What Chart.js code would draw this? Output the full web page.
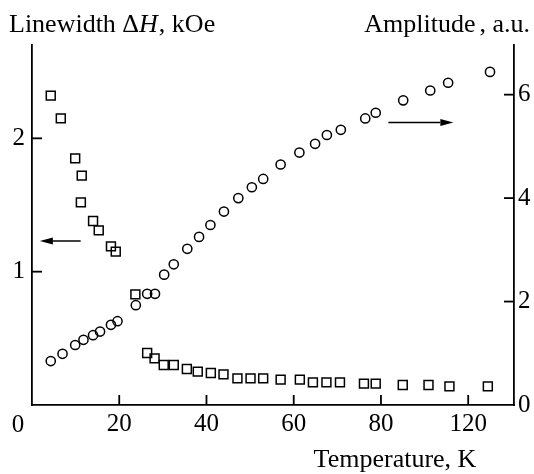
<!DOCTYPE html>
<html>
<head>
<meta charset="utf-8">
<script src="https://cdn.jsdelivr.net/npm/chart.js@4.4.0/dist/chart.umd.min.js"></script>
<style>
  html, body { margin: 0; padding: 0; background: #fff; }
</style>
</head>
<body>
<canvas id="chart" width="534" height="474"></canvas>
<script>
// Linewidth (left axis, squares)
const linewidthT = [4.3, 6.6, 9.9, 11.4, 11.2, 14.0, 15.3, 18.1, 19.2, 23.7, 26.4, 28.1, 30.2, 32.5, 35.5, 38.0,
  41.0, 43.9, 47.1, 50.1, 53.0, 57.0, 61.4, 64.4, 67.5, 70.6, 76.1, 78.8, 85.0, 90.9, 95.7, 104.5];
const linewidthKOe = [2.32, 2.15, 1.85, 1.72, 1.52, 1.38, 1.31, 1.19, 1.15, 0.83, 0.39, 0.35, 0.30, 0.30, 0.27, 0.25,
  0.24, 0.23, 0.20, 0.20, 0.20, 0.19, 0.19, 0.17, 0.17, 0.17, 0.16, 0.16, 0.15, 0.15, 0.14, 0.14];

// Amplitude (right axis, circles)
const amplitudeT = [4.3, 7.0, 9.9, 11.8, 14.0, 15.6, 18.1, 19.6, 23.8, 26.4, 28.2, 30.3, 32.5, 35.6, 38.3, 40.9,
  44.0, 47.3, 50.4, 53.0, 57.0, 61.3, 64.9, 67.6, 70.8, 76.4, 78.8, 85.1, 91.3, 95.4, 105.0];
const amplitudeAU = [0.85, 0.99, 1.16, 1.26, 1.35, 1.42, 1.55, 1.62, 1.93, 2.15, 2.15, 2.52, 2.72, 3.02, 3.25, 3.48,
  3.74, 4.00, 4.21, 4.37, 4.65, 4.88, 5.05, 5.22, 5.32, 5.54, 5.65, 5.89, 6.08, 6.23, 6.44];

// Axis ticks
const xTickValues = [0, 20, 40, 60, 80, 100];
const xTickLabels = ['0', '20', '40', '60', '80', '120'];
const leftTickValues = [1, 2];
const rightTickValues = [0, 2, 4, 6];

const FONT = "'Liberation Serif', 'Times New Roman', serif";
const FS = 25;
const TITLE_FS = 26;
const LINE_W = 1.8;
const TICK_IN = 10; // tick marks point into the plot

const toPoints = (xs, ys) => xs.map((x, i) => ({ x: x, y: ys[i] }));

// Inward tick marks, arrows and axis titles
const decorations = {
  id: 'decorations',
  afterDraw(chart) {
    const ctx = chart.ctx;
    const sx = chart.scales.x, sl = chart.scales.yL, sr = chart.scales.yR;
    const area = chart.chartArea;
    const hw = LINE_W / 2;

    ctx.save();
    ctx.strokeStyle = '#000';
    ctx.fillStyle = '#000';

    for (const v of xTickValues.slice(1)) {
      const px = sx.getPixelForValue(v);
      ctx.fillRect(px - hw, area.bottom - TICK_IN, LINE_W, TICK_IN);
    }
    for (const v of leftTickValues) {
      const py = sl.getPixelForValue(v);
      ctx.fillRect(area.left, py - hw, TICK_IN, LINE_W);
    }
    for (const v of rightTickValues.slice(1)) {
      const py = sr.getPixelForValue(v);
      ctx.fillRect(area.right - TICK_IN, py - hw, TICK_IN, LINE_W);
    }

    // arrows pointing each series to its axis
    ctx.lineWidth = 1.5;
    const arrow = (x0, x1, py) => {
      const dir = Math.sign(x1 - x0);
      const head = 13, half = 3.5;
      ctx.beginPath();
      ctx.moveTo(x0, py);
      ctx.lineTo(x1 - dir * head, py);
      ctx.stroke();
      ctx.beginPath();
      ctx.moveTo(x1, py);
      ctx.lineTo(x1 - dir * head, py - half);
      ctx.lineTo(x1 - dir * head, py + half);
      ctx.closePath();
      ctx.fill();
    };
    arrow(sx.getPixelForValue(11.15), sx.getPixelForValue(1.8), sl.getPixelForValue(1.23));
    arrow(sx.getPixelForValue(81.7), sx.getPixelForValue(96.6), sr.getPixelForValue(5.46));

    // corner zero of the temperature axis
    ctx.font = `${FS}px ${FONT}`;
    ctx.textAlign = 'center';
    ctx.textBaseline = 'alphabetic';
    ctx.fillText('0', area.left - 14, 432);

    // axis titles
    ctx.textAlign = 'left';
    let cx = 9;
    const parts = [['Linewidth \u0394', 'normal'], ['H', 'italic'], [', kOe', 'normal']];
    for (const [t, st] of parts) {
      ctx.font = `${st} ${TITLE_FS}px ${FONT}`;
      ctx.fillText(t, cx, 32);
      cx += ctx.measureText(t).width + (st === 'italic' ? 1 : 0);
    }

    ctx.font = `${TITLE_FS}px ${FONT}`;
    ctx.textAlign = 'right';
    const tail = ', a.u.';
    ctx.fillText(tail, 530, 32);
    ctx.fillText('Amplitude', 530 - ctx.measureText(tail).width - 4, 32);

    ctx.textAlign = 'center';
    ctx.fillText('Temperature, K', 395, 467);
    ctx.restore();
  }
};

const axisBorder = { display: true, color: '#000', width: LINE_W };
const noGrid = { display: false, drawTicks: false };

new Chart(document.getElementById('chart'), {
  type: 'scatter',
  data: {
    datasets: [
      {
        label: 'Linewidth',
        data: toPoints(linewidthT, linewidthKOe),
        yAxisID: 'yL',
        pointStyle: 'rect',
        pointRadius: 6.3,
        borderColor: '#000',
        backgroundColor: 'rgba(0,0,0,0)',
        borderWidth: 1.5
      },
      {
        label: 'Amplitude',
        data: toPoints(amplitudeT, amplitudeAU),
        yAxisID: 'yR',
        pointStyle: 'circle',
        pointRadius: 4.6,
        borderColor: '#000',
        backgroundColor: 'rgba(0,0,0,0)',
        borderWidth: 1.5
      }
    ]
  },
  options: {
    responsive: false,
    animation: false,
    layout: { padding: { top: 45, left: 0, right: 0, bottom: 0 } },
    plugins: { legend: { display: false }, tooltip: { enabled: false } },
    scales: {
      x: {
        type: 'linear',
        position: 'bottom',
        min: 0,
        max: 110.5,
        afterBuildTicks: s => { s.ticks = xTickValues.map(v => ({ value: v })); },
        afterFit: s => { s.height = 69; },
        grid: noGrid,
        border: axisBorder,
        ticks: {
          font: { family: FONT, size: FS },
          color: '#000',
          padding: 4,
          maxRotation: 0,
          autoSkip: false,
          callback: v => (v === 0 ? '' : xTickLabels[xTickValues.indexOf(v)])
        }
      },
      yL: {
        type: 'linear',
        position: 'left',
        min: 0,
        max: 2.70,
        afterBuildTicks: s => { s.ticks = leftTickValues.map(v => ({ value: v })); },
        afterFit: s => { s.width = 32; },
        grid: noGrid,
        border: axisBorder,
        ticks: { font: { family: FONT, size: FS }, color: '#000', padding: 7 }
      },
      yR: {
        type: 'linear',
        position: 'right',
        min: 0,
        max: 6.96,
        afterBuildTicks: s => { s.ticks = rightTickValues.map(v => ({ value: v })); },
        afterFit: s => { s.width = 20; },
        grid: noGrid,
        border: axisBorder,
        ticks: { font: { family: FONT, size: FS }, color: '#000', padding: 4 }
      }
    }
  },
  plugins: [decorations]
});
</script>
</body>
</html>
